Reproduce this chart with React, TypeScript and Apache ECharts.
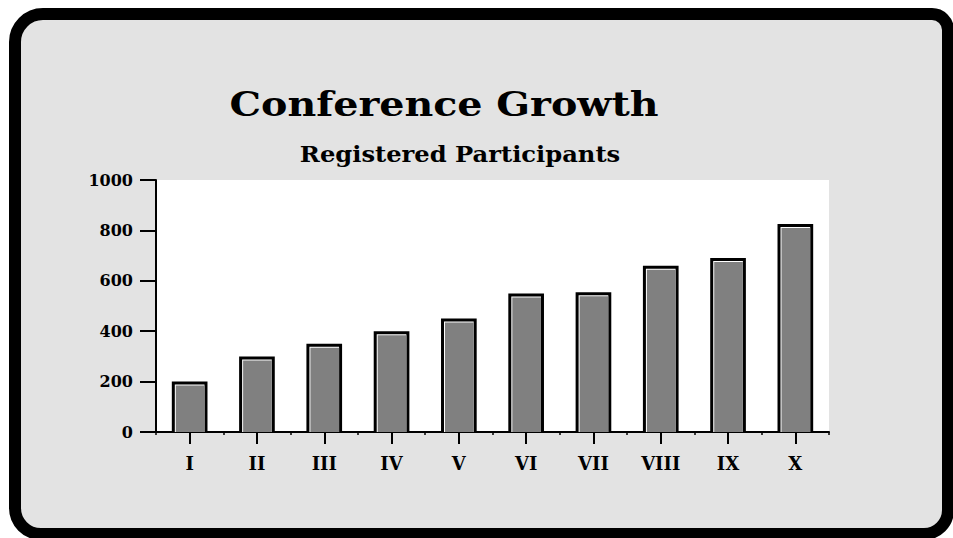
import React, { useEffect, useRef } from "react";
import * as echarts from "echarts";

const categories = ["I", "II", "III", "IV", "V", "VI", "VII", "VIII", "IX", "X"];
const participants = [200, 300, 350, 400, 450, 550, 555, 660, 690, 825];
const yTicks = { min: 0, max: 1000, interval: 200 };
const titleText = "Conference Growth";
const subtitleText = "Registered Participants";

const FONT = "'DejaVu Serif', serif";

export default function App() {
  const ref = useRef<HTMLDivElement>(null);
  useEffect(() => {
    if (!ref.current) return;
    const chart = echarts.init(ref.current, undefined, { renderer: "svg" });
    const data = participants.map((v, i) => [i, v]);
    chart.setOption({
      animation: false,
      backgroundColor: "#ffffff",
      graphic: [
        {
          type: "rect",
          z: -10,
          shape: { x: 15, y: 14, width: 933, height: 520, r: [28, 16, 24, 26] },
          style: { fill: "#e3e3e3", stroke: "#000", lineWidth: 12 },
        },
        {
          type: "text",
          x: 444,
          y: 105,
          scaleX: 1.2,
          style: {
            text: titleText,
            font: `bold 33px ${FONT}`,
            fill: "#000",
            align: "center",
            verticalAlign: "middle",
          },
        },
        {
          type: "text",
          x: 460,
          y: 154,
          scaleX: 1.1,
          style: {
            text: subtitleText,
            font: `bold 22px ${FONT}`,
            fill: "#000",
            align: "center",
            verticalAlign: "middle",
          },
        },
      ],
      grid: {
        left: 156,
        top: 180,
        width: 673,
        height: 252,
        show: true,
        backgroundColor: "#ffffff",
        borderWidth: 0,
      },
      xAxis: [
        {
          type: "category",
          data: categories,
          boundaryGap: true,
          axisLine: { show: true, lineStyle: { color: "#000", width: 2 } },
          axisTick: { show: true, alignWithLabel: true, length: 12, lineStyle: { color: "#000", width: 2 } },
          axisLabel: {
            color: "#000",
            fontFamily: FONT,
            fontWeight: "bold",
            fontSize: 18,
            margin: 22,
          },
          splitLine: { show: false },
        },
        {
          type: "category",
          data: categories,
          position: "bottom",
          boundaryGap: true,
          axisLine: { show: false },
          axisTick: { show: true, length: 3, lineStyle: { color: "#000", width: 1.5 } },
          axisLabel: { show: false },
          splitLine: { show: false },
        },
      ],
      yAxis: {
        type: "value",
        min: yTicks.min,
        max: yTicks.max,
        interval: yTicks.interval,
        axisLine: { show: true, lineStyle: { color: "#000", width: 2 } },
        axisTick: { show: true, length: 16, lineStyle: { color: "#000", width: 2 } },
        axisLabel: {
          color: "#000",
          fontFamily: FONT,
          fontWeight: "bold",
          fontSize: 16,
          margin: 23,
          formatter: (v: number) => String(v),
        },
        splitLine: { show: false },
      },
      series: [
        {
          type: "custom",
          xAxisIndex: 0,
          yAxisIndex: 0,
          data,
          encode: { x: 0, y: 1 },
          renderItem: (params: any, api: any) => {
            const idx = api.value(0);
            const v = api.value(1);
            const top = api.coord([idx, v]);
            const base = api.coord([idx, 0]);
            const w = api.size([1, 0])[0] * 0.53;
            const x = top[0] - w / 2;
            const y = top[1];
            const h = base[1] - top[1];
            return {
              type: "group",
              children: [
                { type: "rect", shape: { x, y, width: w, height: h }, style: { fill: "#000" } },
                { type: "rect", shape: { x: x + 3, y: y + 3, width: w - 6, height: h - 3 }, style: { fill: "#fff" } },
                { type: "rect", shape: { x: x + 4, y: y + 4, width: w - 7, height: h - 4 }, style: { fill: "#808080" } },
              ],
            };
          },
        },
      ],
    });
    return () => chart.dispose();
  }, []);
  return (
    <div
      ref={ref}
      style={{ position: "fixed", left: 0, top: 0, width: 953, height: 538 }}
    />
  );
}
